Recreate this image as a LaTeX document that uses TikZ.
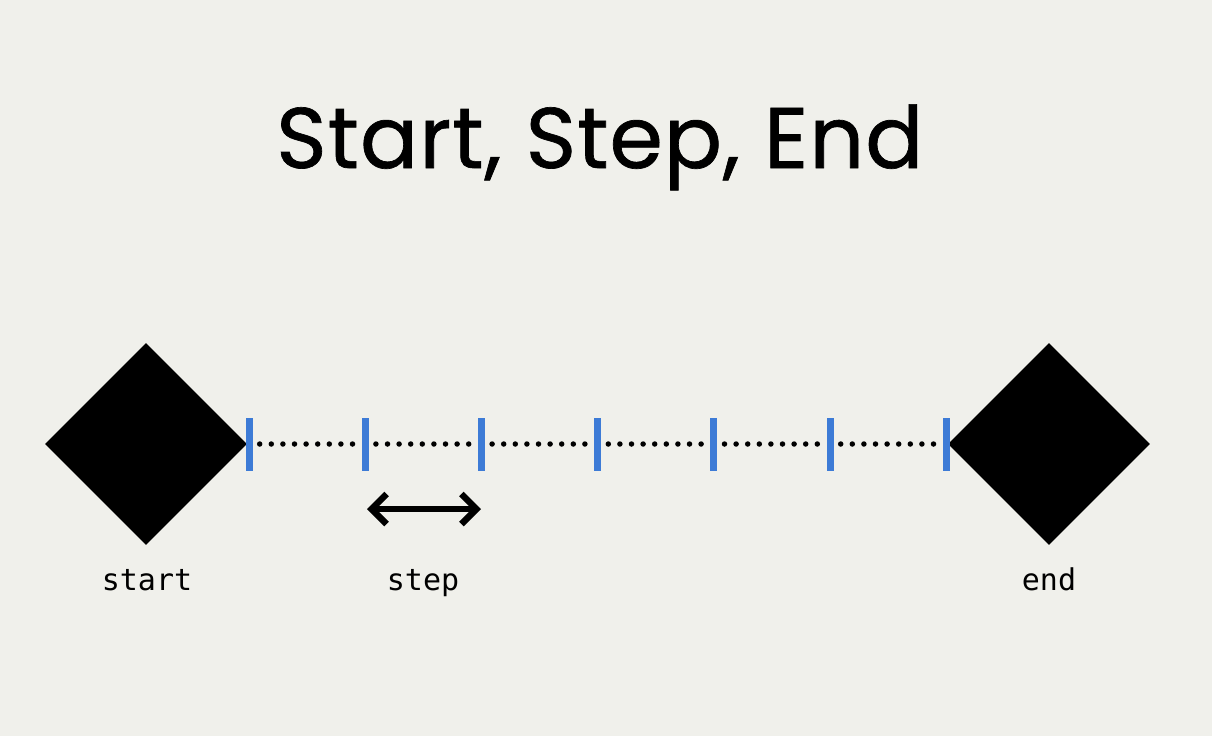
\documentclass[tikz,border=0pt]{standalone}
\usepackage{fontspec}
\setmainfont{Poppins}
\setmonofont{DejaVu Sans Mono}
\usetikzlibrary{arrows.meta,shapes.geometric}
\definecolor{mybg}{RGB}{240,240,235}
\definecolor{myblue}{RGB}{61,123,214}

\begin{document}
\begin{tikzpicture}[x=1pt,y=-1pt,
every node/.style={inner sep=0pt},
marker/.style={diamond,fill=black,minimum width=202pt,minimum height=202pt},
tick/.style={fill=myblue,minimum width=7pt,minimum height=53pt},
dots/.style={line width=5.5pt,line cap=round,dash pattern=on 0pt off 11.6pt,shorten <=7pt,shorten >=7pt},
barb/.style={line width=6.5pt,{Straight Barb[length=15pt,width=30pt]}-{Straight Barb[length=15pt,width=30pt]}},
lbl/.style={font=\ttfamily\fontsize{30}{30}\selectfont,anchor=base}]
\useasboundingbox (0,0) rectangle (1212,736);
\fill[mybg] (0,0) rectangle (1212,736);
\node[font=\addfontfeature{LetterSpace=1.2,FakeBold=0.8}\fontsize{86}{86}\selectfont,anchor=base west] (title) at (276,168) {Start, Step, End};
\node[marker] (start) at (146,444) {};
\node[marker] (stop) at (1049,444) {};
\foreach \i in {0,...,6}
  \node[tick] (t\i) at ({249+116.2*\i},444) {};
\foreach \i [count=\j] in {0,...,5}
  \draw[dots] (t\i) -- (t\j);
\coordinate (s1) at (367,509);
\coordinate (s2) at (481,509);
\draw[barb] (s1) -- (s2);
\node[lbl] (lstart) at (147,590) {start};
\node[lbl] (lstep) at (423,590) {step};
\node[lbl] (lend) at (1049,590) {end};
\end{tikzpicture}
\end{document}
